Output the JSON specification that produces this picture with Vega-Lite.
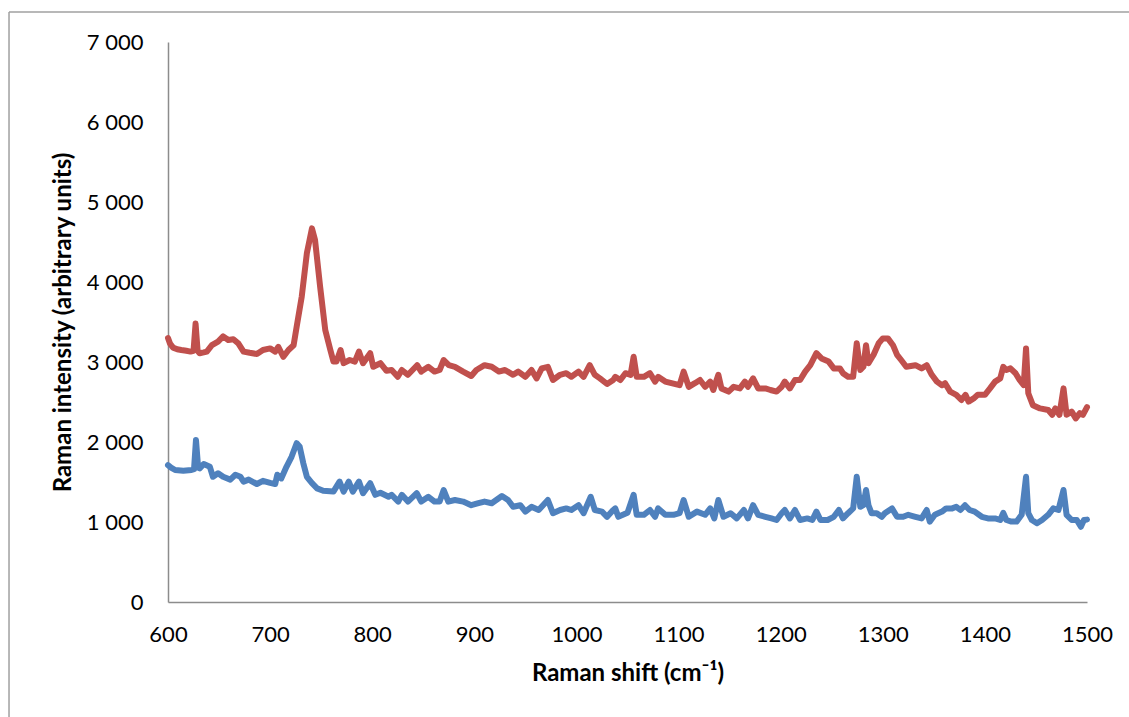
{
  "$schema": "https://vega.github.io/schema/vega-lite/v6.json",
  "width": 919,
  "height": 560,
  "autosize": {"type": "none"},
  "padding": {"left": 168, "top": 42, "right": 42, "bottom": 115},
  "background": "white",
  "config": {"view": {"stroke": null}, "font": "Lato"},
  "layer": [
    {
      "data": {"values": [{}]},
      "mark": {"type": "rule", "color": "#a0a0a0", "strokeWidth": 1.5},
      "encoding": {
        "x": {"datum": 444.3, "type": "quantitative"},
        "y": {"datum": -1500, "type": "quantitative"},
        "y2": {"datum": 7375}
      }
    },
    {
      "data": {"values": [{}]},
      "mark": {"type": "rule", "color": "#a0a0a0", "strokeWidth": 1.5},
      "encoding": {
        "y": {"datum": 7375, "type": "quantitative"},
        "x": {"datum": 444.3, "type": "quantitative"},
        "x2": {"datum": 1600}
      }
    },
    {
      "data": {
        "values": [
          {"series": "A", "shift": 600, "intensity": 3300},
          {"series": "A", "shift": 602, "intensity": 3230},
          {"series": "A", "shift": 605, "intensity": 3180},
          {"series": "A", "shift": 609, "intensity": 3160},
          {"series": "A", "shift": 613, "intensity": 3150},
          {"series": "A", "shift": 618, "intensity": 3140},
          {"series": "A", "shift": 622, "intensity": 3130},
          {"series": "A", "shift": 625, "intensity": 3140},
          {"series": "A", "shift": 627, "intensity": 3480},
          {"series": "A", "shift": 629, "intensity": 3140},
          {"series": "A", "shift": 631, "intensity": 3110},
          {"series": "A", "shift": 635, "intensity": 3120},
          {"series": "A", "shift": 638, "intensity": 3130},
          {"series": "A", "shift": 643, "intensity": 3210},
          {"series": "A", "shift": 649, "intensity": 3255},
          {"series": "A", "shift": 654, "intensity": 3320},
          {"series": "A", "shift": 659, "intensity": 3275},
          {"series": "A", "shift": 664, "intensity": 3285},
          {"series": "A", "shift": 669, "intensity": 3230},
          {"series": "A", "shift": 674, "intensity": 3130},
          {"series": "A", "shift": 680, "intensity": 3115},
          {"series": "A", "shift": 687, "intensity": 3100},
          {"series": "A", "shift": 693, "intensity": 3150},
          {"series": "A", "shift": 700, "intensity": 3170},
          {"series": "A", "shift": 705, "intensity": 3130},
          {"series": "A", "shift": 708, "intensity": 3190},
          {"series": "A", "shift": 713, "intensity": 3065},
          {"series": "A", "shift": 718, "intensity": 3150},
          {"series": "A", "shift": 723, "intensity": 3210},
          {"series": "A", "shift": 726, "intensity": 3440},
          {"series": "A", "shift": 731, "intensity": 3820},
          {"series": "A", "shift": 736, "intensity": 4360},
          {"series": "A", "shift": 741, "intensity": 4670},
          {"series": "A", "shift": 744, "intensity": 4525},
          {"series": "A", "shift": 749, "intensity": 3940},
          {"series": "A", "shift": 754, "intensity": 3400},
          {"series": "A", "shift": 759, "intensity": 3150},
          {"series": "A", "shift": 762, "intensity": 3005},
          {"series": "A", "shift": 765, "intensity": 3005},
          {"series": "A", "shift": 769, "intensity": 3150},
          {"series": "A", "shift": 772, "intensity": 2985},
          {"series": "A", "shift": 778, "intensity": 3025},
          {"series": "A", "shift": 783, "intensity": 3005},
          {"series": "A", "shift": 787, "intensity": 3130},
          {"series": "A", "shift": 791, "intensity": 2985},
          {"series": "A", "shift": 798, "intensity": 3110},
          {"series": "A", "shift": 801, "intensity": 2940},
          {"series": "A", "shift": 808, "intensity": 2985},
          {"series": "A", "shift": 814, "intensity": 2890},
          {"series": "A", "shift": 819, "intensity": 2900},
          {"series": "A", "shift": 825, "intensity": 2815},
          {"series": "A", "shift": 829, "intensity": 2900},
          {"series": "A", "shift": 835, "intensity": 2840},
          {"series": "A", "shift": 844, "intensity": 2960},
          {"series": "A", "shift": 848, "intensity": 2880},
          {"series": "A", "shift": 855, "intensity": 2940},
          {"series": "A", "shift": 861, "intensity": 2880},
          {"series": "A", "shift": 866, "intensity": 2900},
          {"series": "A", "shift": 870, "intensity": 3025},
          {"series": "A", "shift": 875, "intensity": 2960},
          {"series": "A", "shift": 881, "intensity": 2940},
          {"series": "A", "shift": 889, "intensity": 2880},
          {"series": "A", "shift": 897, "intensity": 2825},
          {"series": "A", "shift": 902, "intensity": 2900},
          {"series": "A", "shift": 910, "intensity": 2960},
          {"series": "A", "shift": 917, "intensity": 2940},
          {"series": "A", "shift": 924, "intensity": 2880},
          {"series": "A", "shift": 930, "intensity": 2900},
          {"series": "A", "shift": 938, "intensity": 2840},
          {"series": "A", "shift": 943, "intensity": 2880},
          {"series": "A", "shift": 950, "intensity": 2815},
          {"series": "A", "shift": 956, "intensity": 2900},
          {"series": "A", "shift": 961, "intensity": 2795},
          {"series": "A", "shift": 966, "intensity": 2920},
          {"series": "A", "shift": 972, "intensity": 2940},
          {"series": "A", "shift": 977, "intensity": 2775},
          {"series": "A", "shift": 984, "intensity": 2840},
          {"series": "A", "shift": 990, "intensity": 2860},
          {"series": "A", "shift": 995, "intensity": 2815},
          {"series": "A", "shift": 1002, "intensity": 2880},
          {"series": "A", "shift": 1007, "intensity": 2815},
          {"series": "A", "shift": 1013, "intensity": 2960},
          {"series": "A", "shift": 1018, "intensity": 2840},
          {"series": "A", "shift": 1023, "intensity": 2795},
          {"series": "A", "shift": 1030, "intensity": 2725},
          {"series": "A", "shift": 1036, "intensity": 2775},
          {"series": "A", "shift": 1038, "intensity": 2815},
          {"series": "A", "shift": 1043, "intensity": 2775},
          {"series": "A", "shift": 1048, "intensity": 2860},
          {"series": "A", "shift": 1053, "intensity": 2840},
          {"series": "A", "shift": 1056, "intensity": 3065},
          {"series": "A", "shift": 1059, "intensity": 2815},
          {"series": "A", "shift": 1066, "intensity": 2815},
          {"series": "A", "shift": 1072, "intensity": 2860},
          {"series": "A", "shift": 1077, "intensity": 2755},
          {"series": "A", "shift": 1080, "intensity": 2815},
          {"series": "A", "shift": 1087, "intensity": 2755},
          {"series": "A", "shift": 1093, "intensity": 2735},
          {"series": "A", "shift": 1101, "intensity": 2710},
          {"series": "A", "shift": 1105, "intensity": 2880},
          {"series": "A", "shift": 1110, "intensity": 2690},
          {"series": "A", "shift": 1116, "intensity": 2735},
          {"series": "A", "shift": 1121, "intensity": 2775},
          {"series": "A", "shift": 1126, "intensity": 2690},
          {"series": "A", "shift": 1131, "intensity": 2755},
          {"series": "A", "shift": 1134, "intensity": 2650},
          {"series": "A", "shift": 1139, "intensity": 2840},
          {"series": "A", "shift": 1142, "intensity": 2670},
          {"series": "A", "shift": 1149, "intensity": 2630},
          {"series": "A", "shift": 1154, "intensity": 2690},
          {"series": "A", "shift": 1160, "intensity": 2670},
          {"series": "A", "shift": 1165, "intensity": 2755},
          {"series": "A", "shift": 1168, "intensity": 2690},
          {"series": "A", "shift": 1173, "intensity": 2795},
          {"series": "A", "shift": 1178, "intensity": 2670},
          {"series": "A", "shift": 1185, "intensity": 2670},
          {"series": "A", "shift": 1190, "intensity": 2650},
          {"series": "A", "shift": 1196, "intensity": 2630},
          {"series": "A", "shift": 1201, "intensity": 2690},
          {"series": "A", "shift": 1204, "intensity": 2755},
          {"series": "A", "shift": 1209, "intensity": 2670},
          {"series": "A", "shift": 1214, "intensity": 2775},
          {"series": "A", "shift": 1219, "intensity": 2775},
          {"series": "A", "shift": 1224, "intensity": 2880},
          {"series": "A", "shift": 1229, "intensity": 2960},
          {"series": "A", "shift": 1235, "intensity": 3110},
          {"series": "A", "shift": 1240, "intensity": 3045},
          {"series": "A", "shift": 1247, "intensity": 3005},
          {"series": "A", "shift": 1252, "intensity": 2920},
          {"series": "A", "shift": 1258, "intensity": 2920},
          {"series": "A", "shift": 1261, "intensity": 2860},
          {"series": "A", "shift": 1266, "intensity": 2815},
          {"series": "A", "shift": 1271, "intensity": 2815},
          {"series": "A", "shift": 1274.5, "intensity": 3235},
          {"series": "A", "shift": 1278, "intensity": 2900},
          {"series": "A", "shift": 1281, "intensity": 2940},
          {"series": "A", "shift": 1283.6, "intensity": 3210},
          {"series": "A", "shift": 1286, "intensity": 2985},
          {"series": "A", "shift": 1291, "intensity": 3090},
          {"series": "A", "shift": 1296, "intensity": 3235},
          {"series": "A", "shift": 1300, "intensity": 3295},
          {"series": "A", "shift": 1305, "intensity": 3295},
          {"series": "A", "shift": 1310, "intensity": 3210},
          {"series": "A", "shift": 1314, "intensity": 3090},
          {"series": "A", "shift": 1318, "intensity": 3025},
          {"series": "A", "shift": 1323, "intensity": 2940},
          {"series": "A", "shift": 1332, "intensity": 2960},
          {"series": "A", "shift": 1338, "intensity": 2920},
          {"series": "A", "shift": 1343, "intensity": 2960},
          {"series": "A", "shift": 1348, "intensity": 2840},
          {"series": "A", "shift": 1353, "intensity": 2755},
          {"series": "A", "shift": 1358, "intensity": 2710},
          {"series": "A", "shift": 1361, "intensity": 2735},
          {"series": "A", "shift": 1366, "intensity": 2630},
          {"series": "A", "shift": 1372, "intensity": 2590},
          {"series": "A", "shift": 1377, "intensity": 2525},
          {"series": "A", "shift": 1381, "intensity": 2590},
          {"series": "A", "shift": 1384, "intensity": 2505},
          {"series": "A", "shift": 1389, "intensity": 2545},
          {"series": "A", "shift": 1393, "intensity": 2590},
          {"series": "A", "shift": 1400, "intensity": 2590},
          {"series": "A", "shift": 1405, "intensity": 2670},
          {"series": "A", "shift": 1410, "intensity": 2755},
          {"series": "A", "shift": 1415, "intensity": 2795},
          {"series": "A", "shift": 1418, "intensity": 2940},
          {"series": "A", "shift": 1421, "intensity": 2900},
          {"series": "A", "shift": 1425, "intensity": 2920},
          {"series": "A", "shift": 1430, "intensity": 2860},
          {"series": "A", "shift": 1434, "intensity": 2775},
          {"series": "A", "shift": 1438, "intensity": 2710},
          {"series": "A", "shift": 1440.3, "intensity": 3170},
          {"series": "A", "shift": 1442.5, "intensity": 2610},
          {"series": "A", "shift": 1447, "intensity": 2460},
          {"series": "A", "shift": 1454, "intensity": 2420},
          {"series": "A", "shift": 1462, "intensity": 2400},
          {"series": "A", "shift": 1466, "intensity": 2340},
          {"series": "A", "shift": 1469, "intensity": 2420},
          {"series": "A", "shift": 1473, "intensity": 2340},
          {"series": "A", "shift": 1477, "intensity": 2670},
          {"series": "A", "shift": 1480, "intensity": 2340},
          {"series": "A", "shift": 1485, "intensity": 2380},
          {"series": "A", "shift": 1489, "intensity": 2295},
          {"series": "A", "shift": 1493, "intensity": 2360},
          {"series": "A", "shift": 1496, "intensity": 2340},
          {"series": "A", "shift": 1500, "intensity": 2435},

          {"series": "B", "shift": 600, "intensity": 1710},
          {"series": "B", "shift": 603, "intensity": 1680},
          {"series": "B", "shift": 607, "intensity": 1650},
          {"series": "B", "shift": 615, "intensity": 1640},
          {"series": "B", "shift": 623, "intensity": 1650},
          {"series": "B", "shift": 625.5, "intensity": 1660},
          {"series": "B", "shift": 627.4, "intensity": 2025},
          {"series": "B", "shift": 629.5, "intensity": 1680},
          {"series": "B", "shift": 631, "intensity": 1670},
          {"series": "B", "shift": 635, "intensity": 1725},
          {"series": "B", "shift": 641, "intensity": 1690},
          {"series": "B", "shift": 644, "intensity": 1565},
          {"series": "B", "shift": 649, "intensity": 1610},
          {"series": "B", "shift": 654, "intensity": 1565},
          {"series": "B", "shift": 661, "intensity": 1530},
          {"series": "B", "shift": 666, "intensity": 1590},
          {"series": "B", "shift": 671, "intensity": 1565},
          {"series": "B", "shift": 674, "intensity": 1505},
          {"series": "B", "shift": 679, "intensity": 1530},
          {"series": "B", "shift": 687, "intensity": 1475},
          {"series": "B", "shift": 693, "intensity": 1515},
          {"series": "B", "shift": 700, "intensity": 1490},
          {"series": "B", "shift": 705, "intensity": 1475},
          {"series": "B", "shift": 707, "intensity": 1590},
          {"series": "B", "shift": 711, "intensity": 1545},
          {"series": "B", "shift": 716, "intensity": 1690},
          {"series": "B", "shift": 721, "intensity": 1815},
          {"series": "B", "shift": 726, "intensity": 1985},
          {"series": "B", "shift": 729, "intensity": 1940},
          {"series": "B", "shift": 732.5, "intensity": 1735},
          {"series": "B", "shift": 736, "intensity": 1565},
          {"series": "B", "shift": 741, "intensity": 1485},
          {"series": "B", "shift": 746, "intensity": 1420},
          {"series": "B", "shift": 752, "intensity": 1390},
          {"series": "B", "shift": 762, "intensity": 1380},
          {"series": "B", "shift": 768, "intensity": 1505},
          {"series": "B", "shift": 772, "intensity": 1380},
          {"series": "B", "shift": 777, "intensity": 1505},
          {"series": "B", "shift": 781, "intensity": 1380},
          {"series": "B", "shift": 787, "intensity": 1505},
          {"series": "B", "shift": 791, "intensity": 1360},
          {"series": "B", "shift": 798, "intensity": 1485},
          {"series": "B", "shift": 803, "intensity": 1340},
          {"series": "B", "shift": 808, "intensity": 1365},
          {"series": "B", "shift": 816, "intensity": 1315},
          {"series": "B", "shift": 819, "intensity": 1340},
          {"series": "B", "shift": 825.5, "intensity": 1255},
          {"series": "B", "shift": 829, "intensity": 1340},
          {"series": "B", "shift": 835, "intensity": 1255},
          {"series": "B", "shift": 843.6, "intensity": 1360},
          {"series": "B", "shift": 848, "intensity": 1255},
          {"series": "B", "shift": 855, "intensity": 1315},
          {"series": "B", "shift": 861, "intensity": 1255},
          {"series": "B", "shift": 866, "intensity": 1255},
          {"series": "B", "shift": 870, "intensity": 1400},
          {"series": "B", "shift": 874.5, "intensity": 1255},
          {"series": "B", "shift": 881, "intensity": 1275},
          {"series": "B", "shift": 889, "intensity": 1255},
          {"series": "B", "shift": 897, "intensity": 1210},
          {"series": "B", "shift": 904, "intensity": 1235},
          {"series": "B", "shift": 910, "intensity": 1255},
          {"series": "B", "shift": 917, "intensity": 1235},
          {"series": "B", "shift": 927, "intensity": 1325},
          {"series": "B", "shift": 933, "intensity": 1275},
          {"series": "B", "shift": 938, "intensity": 1190},
          {"series": "B", "shift": 945, "intensity": 1210},
          {"series": "B", "shift": 950, "intensity": 1130},
          {"series": "B", "shift": 956, "intensity": 1190},
          {"series": "B", "shift": 963, "intensity": 1150},
          {"series": "B", "shift": 972, "intensity": 1275},
          {"series": "B", "shift": 977, "intensity": 1110},
          {"series": "B", "shift": 984, "intensity": 1150},
          {"series": "B", "shift": 990, "intensity": 1170},
          {"series": "B", "shift": 995, "intensity": 1150},
          {"series": "B", "shift": 1002, "intensity": 1210},
          {"series": "B", "shift": 1007, "intensity": 1110},
          {"series": "B", "shift": 1014, "intensity": 1315},
          {"series": "B", "shift": 1018, "intensity": 1150},
          {"series": "B", "shift": 1025, "intensity": 1130},
          {"series": "B", "shift": 1030, "intensity": 1065},
          {"series": "B", "shift": 1036, "intensity": 1150},
          {"series": "B", "shift": 1038, "intensity": 1170},
          {"series": "B", "shift": 1041, "intensity": 1065},
          {"series": "B", "shift": 1050, "intensity": 1115},
          {"series": "B", "shift": 1056, "intensity": 1340},
          {"series": "B", "shift": 1059, "intensity": 1090},
          {"series": "B", "shift": 1066, "intensity": 1090},
          {"series": "B", "shift": 1072, "intensity": 1150},
          {"series": "B", "shift": 1077, "intensity": 1065},
          {"series": "B", "shift": 1080, "intensity": 1170},
          {"series": "B", "shift": 1087, "intensity": 1090},
          {"series": "B", "shift": 1095, "intensity": 1090},
          {"series": "B", "shift": 1101, "intensity": 1110},
          {"series": "B", "shift": 1105, "intensity": 1275},
          {"series": "B", "shift": 1110, "intensity": 1065},
          {"series": "B", "shift": 1118, "intensity": 1130},
          {"series": "B", "shift": 1126, "intensity": 1090},
          {"series": "B", "shift": 1131, "intensity": 1170},
          {"series": "B", "shift": 1135, "intensity": 1045},
          {"series": "B", "shift": 1139, "intensity": 1275},
          {"series": "B", "shift": 1144, "intensity": 1065},
          {"series": "B", "shift": 1151, "intensity": 1110},
          {"series": "B", "shift": 1157, "intensity": 1045},
          {"series": "B", "shift": 1164, "intensity": 1150},
          {"series": "B", "shift": 1168, "intensity": 1045},
          {"series": "B", "shift": 1173, "intensity": 1210},
          {"series": "B", "shift": 1178, "intensity": 1090},
          {"series": "B", "shift": 1185, "intensity": 1065},
          {"series": "B", "shift": 1191, "intensity": 1045},
          {"series": "B", "shift": 1196, "intensity": 1025},
          {"series": "B", "shift": 1201, "intensity": 1110},
          {"series": "B", "shift": 1204, "intensity": 1150},
          {"series": "B", "shift": 1209, "intensity": 1045},
          {"series": "B", "shift": 1214, "intensity": 1150},
          {"series": "B", "shift": 1219, "intensity": 1025},
          {"series": "B", "shift": 1226, "intensity": 1045},
          {"series": "B", "shift": 1231, "intensity": 1025},
          {"series": "B", "shift": 1235, "intensity": 1130},
          {"series": "B", "shift": 1239, "intensity": 1025},
          {"series": "B", "shift": 1246, "intensity": 1025},
          {"series": "B", "shift": 1252, "intensity": 1065},
          {"series": "B", "shift": 1257, "intensity": 1150},
          {"series": "B", "shift": 1261, "intensity": 1045},
          {"series": "B", "shift": 1266, "intensity": 1110},
          {"series": "B", "shift": 1271, "intensity": 1170},
          {"series": "B", "shift": 1274.5, "intensity": 1565},
          {"series": "B", "shift": 1278, "intensity": 1190},
          {"series": "B", "shift": 1281, "intensity": 1210},
          {"series": "B", "shift": 1283.6, "intensity": 1400},
          {"series": "B", "shift": 1286, "intensity": 1210},
          {"series": "B", "shift": 1289, "intensity": 1110},
          {"series": "B", "shift": 1294, "intensity": 1110},
          {"series": "B", "shift": 1299, "intensity": 1065},
          {"series": "B", "shift": 1302, "intensity": 1110},
          {"series": "B", "shift": 1309, "intensity": 1170},
          {"series": "B", "shift": 1314, "intensity": 1065},
          {"series": "B", "shift": 1320, "intensity": 1065},
          {"series": "B", "shift": 1325, "intensity": 1090},
          {"series": "B", "shift": 1332, "intensity": 1065},
          {"series": "B", "shift": 1338, "intensity": 1045},
          {"series": "B", "shift": 1343, "intensity": 1150},
          {"series": "B", "shift": 1346, "intensity": 1005},
          {"series": "B", "shift": 1351, "intensity": 1090},
          {"series": "B", "shift": 1358, "intensity": 1130},
          {"series": "B", "shift": 1362, "intensity": 1170},
          {"series": "B", "shift": 1368, "intensity": 1170},
          {"series": "B", "shift": 1372, "intensity": 1190},
          {"series": "B", "shift": 1376, "intensity": 1150},
          {"series": "B", "shift": 1380.5, "intensity": 1210},
          {"series": "B", "shift": 1385, "intensity": 1150},
          {"series": "B", "shift": 1390, "intensity": 1130},
          {"series": "B", "shift": 1397, "intensity": 1065},
          {"series": "B", "shift": 1403, "intensity": 1045},
          {"series": "B", "shift": 1410, "intensity": 1045},
          {"series": "B", "shift": 1415, "intensity": 1025},
          {"series": "B", "shift": 1418, "intensity": 1115},
          {"series": "B", "shift": 1421, "intensity": 1025},
          {"series": "B", "shift": 1426, "intensity": 1005},
          {"series": "B", "shift": 1431, "intensity": 1005},
          {"series": "B", "shift": 1436, "intensity": 1090},
          {"series": "B", "shift": 1440.3, "intensity": 1565},
          {"series": "B", "shift": 1442.5, "intensity": 1110},
          {"series": "B", "shift": 1446, "intensity": 1025},
          {"series": "B", "shift": 1451, "intensity": 985},
          {"series": "B", "shift": 1456, "intensity": 1025},
          {"series": "B", "shift": 1462, "intensity": 1090},
          {"series": "B", "shift": 1467, "intensity": 1170},
          {"series": "B", "shift": 1472, "intensity": 1150},
          {"series": "B", "shift": 1477, "intensity": 1400},
          {"series": "B", "shift": 1480, "intensity": 1090},
          {"series": "B", "shift": 1485, "intensity": 1025},
          {"series": "B", "shift": 1490, "intensity": 1025},
          {"series": "B", "shift": 1494, "intensity": 940},
          {"series": "B", "shift": 1497, "intensity": 1025},
          {"series": "B", "shift": 1500, "intensity": 1030}
        ]
      },
      "mark": {"type": "line", "strokeWidth": 6, "strokeJoin": "round", "strokeCap": "round"},
      "encoding": {
        "x": {
          "field": "shift",
          "type": "quantitative",
          "scale": {"domain": [600, 1500], "nice": false, "zero": false},
          "axis": {
            "title": "Raman shift (cm⁻¹)",
            "values": [600, 700, 800, 900, 1000, 1100, 1200, 1300, 1400, 1500],
            "format": "d",
            "grid": false,
            "ticks": false,
            "domainColor": "#8c8c8c",
            "domainWidth": 1.5,
            "labelFont": "Lato",
            "labelFontSize": 22,
            "labelColor": "#000000",
            "labelPadding": 22,
            "labelFlush": false,
            "titleFont": "Lato",
            "titleFontSize": 24,
            "titleFontWeight": "bold",
            "titleColor": "#000000",
            "titlePadding": 16
          }
        },
        "y": {
          "field": "intensity",
          "type": "quantitative",
          "scale": {"domain": [0, 7000], "nice": false},
          "axis": {
            "title": "Raman intensity (arbitrary units)",
            "values": [0, 1000, 2000, 3000, 4000, 5000, 6000, 7000],
            "labelExpr": "replace(format(datum.value, ','), ',', ' ')",
            "grid": false,
            "ticks": false,
            "domainColor": "#8c8c8c",
            "domainWidth": 1.5,
            "labelFont": "Lato",
            "labelFontSize": 22,
            "labelColor": "#000000",
            "labelPadding": 25,
            "labelFlush": false,
            "titleFont": "Lato",
            "titleFontSize": 24,
            "titleFontWeight": "bold",
            "titleColor": "#000000",
            "titlePadding": 11
          }
        },
        "color": {
          "field": "series",
          "type": "nominal",
          "scale": {"domain": ["A", "B"], "range": ["#c0504d", "#4f81bd"]},
          "legend": null
        }
      }
    }
  ]
}
